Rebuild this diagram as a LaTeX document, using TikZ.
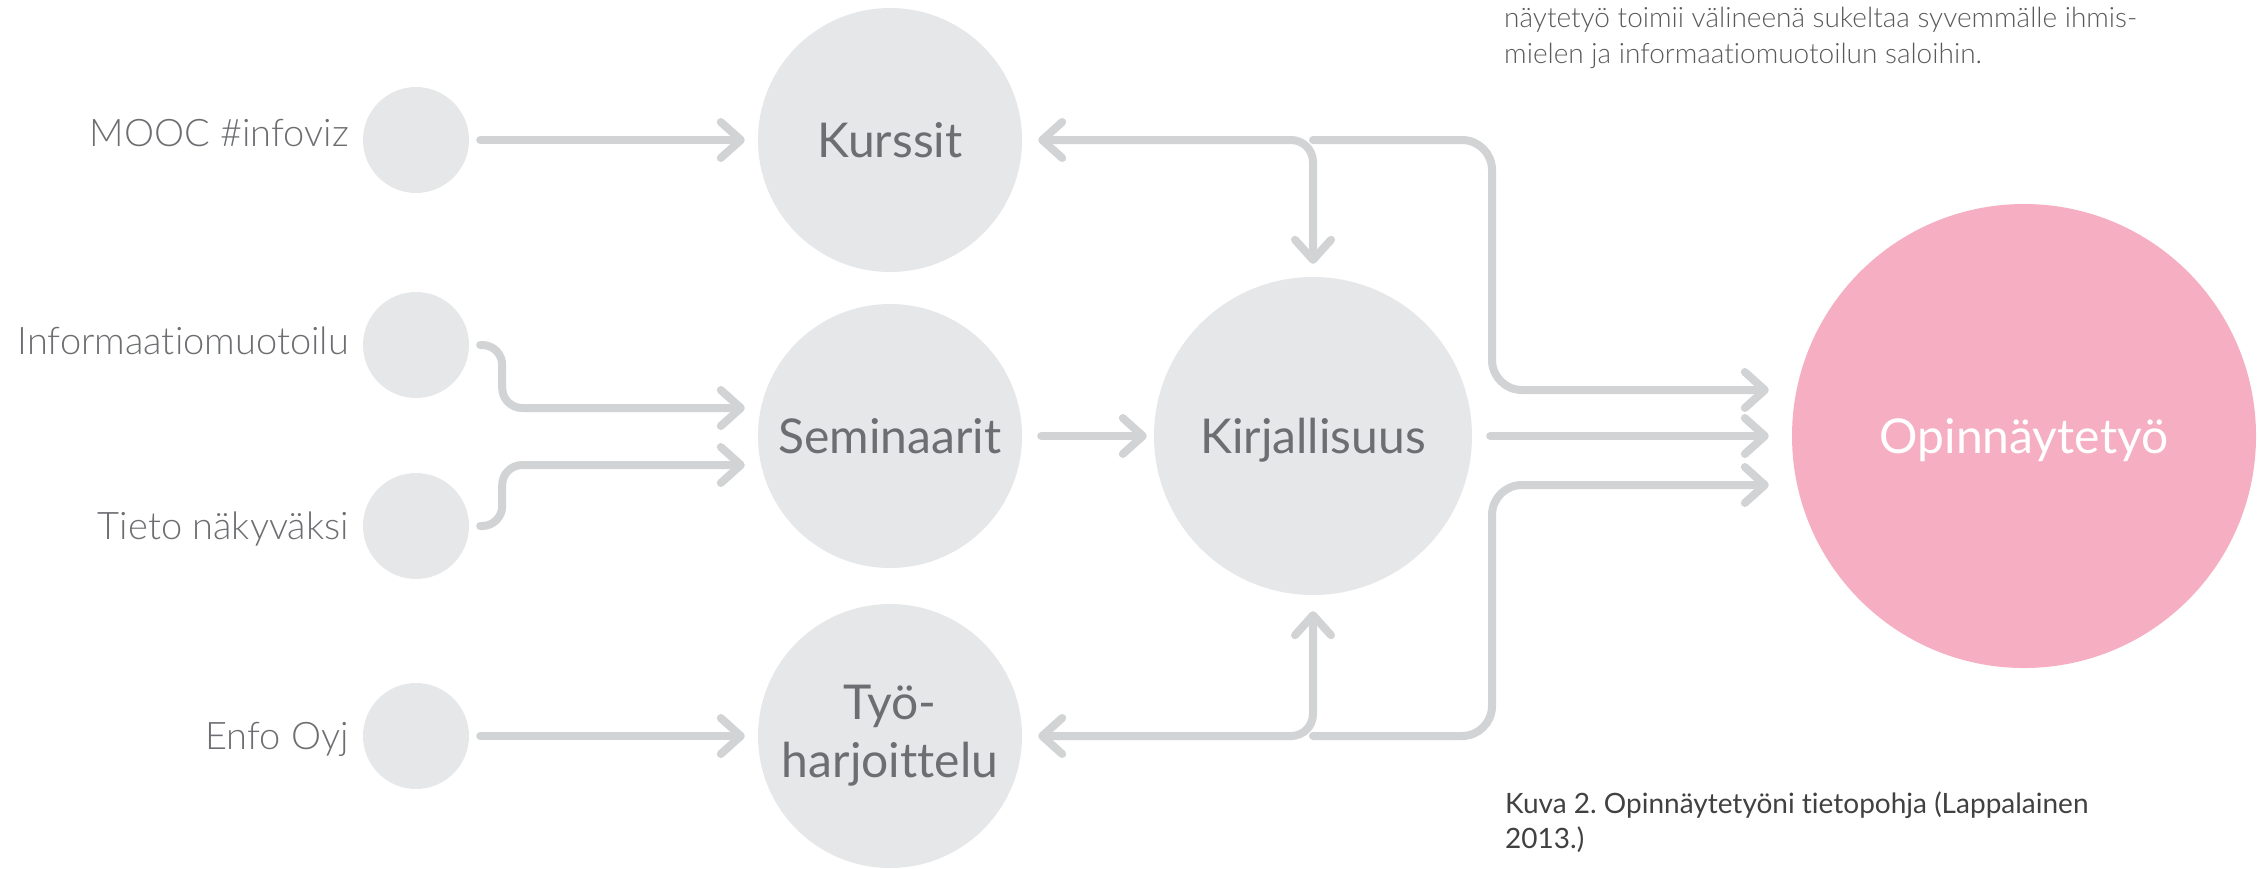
\documentclass[tikz,border=0pt]{standalone}
\usepackage{fontspec}
\setmainfont{Lato}[Ligatures={NoCommon}]
\newfontfamily\lightfont{Lato Light}[Ligatures={NoCommon}]
\usetikzlibrary{arrows.meta}
\definecolor{circ}{HTML}{E6E7E8}
\definecolor{connc}{HTML}{D1D3D4}
\definecolor{txt}{HTML}{6D6E71}
\definecolor{opipink}{HTML}{F5AEC2}
\definecolor{capc}{HTML}{414042}
\definecolor{topc}{HTML}{58595B}
\frenchspacing
\begin{document}
\begin{tikzpicture}[x=1pt,y=-1pt,
  >={Straight Barb[length=20pt,width=36pt,round]},
  small/.style={circle, fill=circ, inner sep=0pt, minimum size=106pt},
  bigbase/.style={circle, fill=circ, inner sep=0pt, minimum size=264pt, text=txt,
    font=\fontsize{48}{58}\selectfont, align=center},
  big/.style={bigbase, text height=35pt, text depth=0pt},
  lbl/.style={text=txt, font=\lightfont\fontsize{38}{45}\selectfont, inner sep=0pt, anchor=base east},
  note/.style={text=topc, font=\lightfont\fontsize{28}{36}\selectfont, inner sep=0pt, anchor=base west},
  capt/.style={text=capc, font=\fontsize{28}{35}\selectfont, inner sep=0pt, anchor=base west},
  conn/.style={draw=connc, line width=8pt, line cap=round, line join=round},
]
\useasboundingbox (0,0) rectangle (2259,868);

% small source circles
\node[small] (s1) at (416,140) {};
\node[small] (s2) at (416,345) {};
\node[small] (s3) at (416,526) {};
\node[small] (s4) at (416,736) {};
\node[lbl] (l1) at (349,146) {MOOC \#infoviz};
\node[lbl] (l2) at (349,354) {Informaatiomuotoilu};
\node[lbl] (l3) at (349,539) {Tieto näkyväksi};
\node[lbl] (l4) at (349,749) {Enfo Oyj};

% big circles
\node[big] (kur) at (890,140) {Kurssit};
\node[big] (sem) at (890,436) {Seminaarit};
\node[bigbase] (tyo) at (890,736) {Työ-\\harjoittelu};
\node[big, minimum size=318pt] (kir) at (1313,436) {Kirjallisuus};
\node[circle, fill=opipink, inner sep=0pt, minimum size=464pt, text=white,
  font=\fontsize{48}{58}\selectfont, text height=35pt, text depth=0pt] (opi) at (2024,436) {Opinnäytetyö};

% connectors
\draw[conn, ->] ([xshift=11pt]s1.east) -- ([xshift=-13pt]kur.west);
\draw[conn, ->, rounded corners=20pt] ([xshift=11pt]s2.east) -- ++(22,0) -- ++(0,63) -- ([xshift=-13pt,yshift=28pt]sem.west);
\draw[conn, ->, rounded corners=20pt] ([xshift=11pt]s3.east) -- ++(22,0) -- ++(0,-61) -- ([xshift=-13pt,yshift=-29pt]sem.west);
\draw[conn, ->] ([xshift=11pt]s4.east) -- ([xshift=-13pt]tyo.west);
\draw[conn, ->] ([xshift=19pt]sem.east) -- ([xshift=-7pt]kir.west);

\coordinate (jt) at (kir.north |- kur.east);
\coordinate (jb) at (kir.south |- tyo.east);
\draw[conn, <->, rounded corners=22pt] ([xshift=16pt]kur.east) -- (jt) -- ([yshift=13pt]kir.north);
\draw[conn, ->, rounded corners=30pt] (jt) -- ++(179,0) -- ++(0,250) -- ([xshift=-23pt,yshift=46pt]opi.west);
\draw[conn, ->] ([xshift=18pt]kir.east) -- ([xshift=-23pt]opi.west);
\draw[conn, <->, rounded corners=22pt] ([xshift=16pt]tyo.east) -- (jb) -- ([yshift=-16pt]kir.south);
\draw[conn, ->, rounded corners=30pt] (jb) -- ++(179,0) -- ++(0,-251) -- ([xshift=-23pt,yshift=-49pt]opi.west);

% texts
\node[note] (t1) at (1504,27) {näytetyö toimii välineenä sukeltaa syvemmälle ihmis-};
\node[note] (t2) at (1504,63) {mielen ja informaatiomuotoilun saloihin.};
\node[capt] (c1) at (1505,813) {Kuva 2. Opinnäytetyöni tietopohja (Lappalainen};
\node[capt] (c2) at (1505,848) {2013.)};
\end{tikzpicture}
\end{document}
